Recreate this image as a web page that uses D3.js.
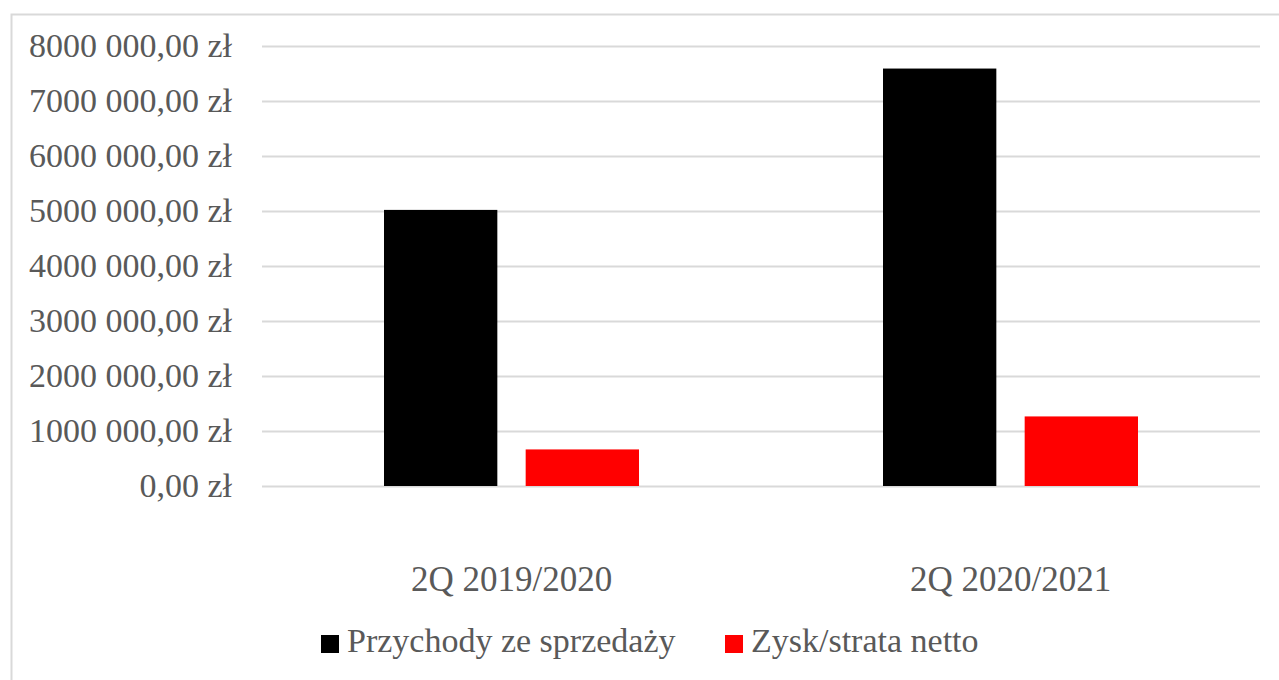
<!DOCTYPE html>
<html>
<head>
<meta charset="utf-8">
<script src="https://cdn.jsdelivr.net/npm/d3@7"></script>
<style>
  body { margin: 0; background: #fff; }
  text { font-family: "Liberation Serif", serif; fill: #595959; }
</style>
</head>
<body>
<div id="chart"></div>
<script>
var svgWidth = 1279;
var svgHeight = 680;

// data
var categories = ["2Q 2019/2020", "2Q 2020/2021"];
var seriesNames = ["Przychody ze sprzedaży", "Zysk/strata netto"];
var seriesColors = ["#000000", "#ff0000"];
var revenue = [5020000, 7590000];
var netProfit = [665000, 1265000];
var yTicks = [0, 1000000, 2000000, 3000000, 4000000, 5000000, 6000000, 7000000, 8000000];

var margin = { top: 46, right: 19, bottom: 194, left: 262 };
var width = svgWidth - margin.left - margin.right;
var height = svgHeight - margin.top - margin.bottom;

var svg = d3.select("#chart")
  .append("svg")
  .attr("width", svgWidth)
  .attr("height", svgHeight);

// outer chart frame (only top and left edges are visible)
svg.append("rect")
  .attr("x", 11.5)
  .attr("y", 14.5)
  .attr("width", svgWidth + 10)
  .attr("height", svgHeight + 10)
  .attr("fill", "none")
  .attr("stroke", "#d9d9d9")
  .attr("stroke-width", 2);

var chartGroup = svg.append("g")
  .attr("transform", `translate(${margin.left}, ${margin.top})`);

var xScale = d3.scaleBand()
  .domain(categories)
  .range([0, width]);

var xInner = d3.scaleBand()
  .domain(seriesNames)
  .range([0, 255])
  .paddingInner(0.2);

var yScale = d3.scaleLinear()
  .domain([0, 8000000])
  .range([height, 0]);

function fmt(v) {
  if (v === 0) return "0,00 zł";
  var m = Math.floor(v / 1000);
  var rest = v % 1000;
  return m + " " + d3.format("03d")(rest) + ",00 zł";
}

// gridlines + tick labels
var leftAxis = d3.axisLeft(yScale)
  .tickValues(yTicks)
  .tickSize(-width)
  .tickPadding(30)
  .tickFormat(fmt);

var yAxis = chartGroup.append("g").call(leftAxis);
yAxis.select(".domain").remove();
yAxis.selectAll(".tick line")
  .attr("stroke", "#d9d9d9")
  .attr("stroke-width", 2);
yAxis.selectAll(".tick text")
  .attr("font-size", 34)
  .attr("font-family", "Liberation Serif")
  .attr("fill", "#595959");

var data = categories.map(function(c, i) {
  return { cat: c, values: [revenue[i], netProfit[i]] };
});

var groups = chartGroup.selectAll(".grp")
  .data(data)
  .enter()
  .append("g")
  .attr("transform", d => `translate(${xScale(d.cat) + xScale.bandwidth() / 2 - 127.5}, 0)`);

groups.selectAll("rect")
  .data(d => d.values.map((v, j) => ({ name: seriesNames[j], v: v, color: seriesColors[j] })))
  .enter()
  .append("rect")
  .attr("x", d => xInner(d.name))
  .attr("width", xInner.bandwidth())
  .attr("y", d => yScale(d.v))
  .attr("height", d => height - yScale(d.v))
  .attr("fill", d => d.color);

// category labels
chartGroup.selectAll(".cat")
  .data(categories)
  .enter()
  .append("text")
  .attr("x", d => xScale(d) + xScale.bandwidth() / 2)
  .attr("y", 583 - margin.top)
  .attr("text-anchor", "middle")
  .attr("dominant-baseline", "middle")
  .attr("font-size", 35)
  .text(d => d);

// legend
var legend = svg.append("g");
var legendX = [321, 725];
seriesNames.forEach(function(name, i) {
  legend.append("rect")
    .attr("x", legendX[i])
    .attr("y", 635)
    .attr("width", 18)
    .attr("height", 18)
    .attr("fill", seriesColors[i]);
  legend.append("text")
    .attr("x", legendX[i] + 26)
    .attr("y", 644)
    .attr("dominant-baseline", "middle")
    .attr("font-size", 34)
    .text(name);
});
</script>
</body>
</html>
